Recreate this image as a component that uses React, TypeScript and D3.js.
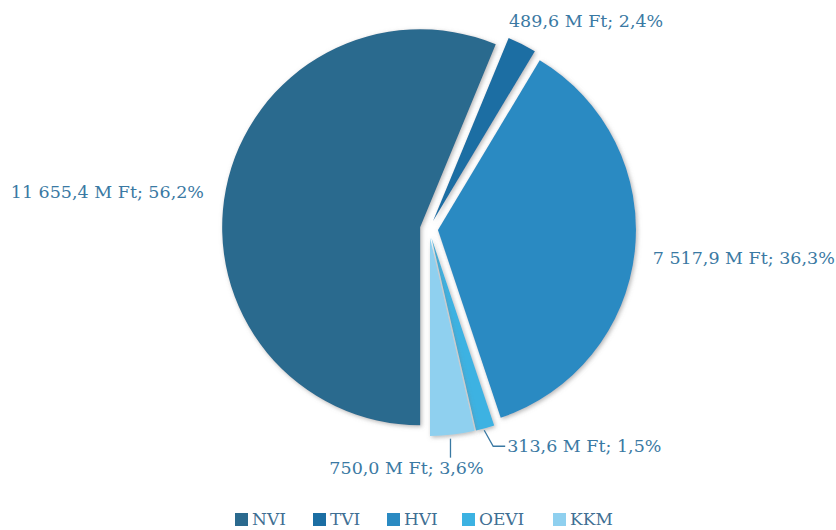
import React, { useEffect, useRef } from 'react';
import * as d3 from 'd3';

const categories = ['NVI', 'TVI', 'HVI', 'OEVI', 'KKM'];
const values = [11655.4, 489.6, 7517.9, 313.6, 750.0];
const colors = ['#2b6a8e', '#1b6ea3', '#2a8ac2', '#3cb2e2', '#8fd0ef'];

// label offsets relative to the slice's outer point (dx, dy, anchor)
const labelLayout: [number, number, string][] = [
  [-22, 3, 'end'],
  [-13, -23, 'start'],
  [18, 6, 'start'],
  [22, 18, 'start'],
  [-46, 33, 'middle'],
];

const W = 836;
const H = 530;

const App: React.FC = () => {
  const svgRef = useRef<SVGSVGElement>(null);

  useEffect(() => {
    if (!svgRef.current) return;
    const svg = d3.select(svgRef.current);
    svg.selectAll('*').remove();

    const cx = 429;
    const cy = 229;
    const R = 198;
    const explode = 9;
    const textColor = '#3a79a3';
    const font = "'DejaVu Serif', 'Noto Serif', serif";

    const total = d3.sum(values);
    const loc = d3.formatLocale({ decimal: ',', thousands: ' ', grouping: [3], currency: ['', ''] });
    const fmtVal = loc.format(',.1f');
    const fmtPct = loc.format('.1f');

    const defs = svg.append('defs');
    const f = defs.append('filter').attr('id', 'shadow')
      .attr('x', '-10%').attr('y', '-10%').attr('width', '120%').attr('height', '120%');
    f.append('feDropShadow').attr('dx', 1.5).attr('dy', 1.5).attr('stdDeviation', 2)
      .attr('flood-color', '#7a7a7a').attr('flood-opacity', 0.55);

    const pie = d3.pie<number>().sort(null)
      .startAngle(Math.PI).endAngle(3 * Math.PI);
    const arcs = pie(values);
    const arc = d3.arc<d3.PieArcDatum<number>>().innerRadius(0).outerRadius(R);

    const offset = (a: d3.PieArcDatum<number>, r: number) => {
      const m = (a.startAngle + a.endAngle) / 2;
      return [Math.sin(m) * r, -Math.cos(m) * r];
    };

    const g = svg.append('g').attr('transform', `translate(${cx},${cy})`);

    g.selectAll('path.slice')
      .data(arcs)
      .enter()
      .append('path')
      .attr('class', 'slice')
      .attr('d', arc)
      .attr('fill', (_, i) => colors[i])
      .attr('filter', 'url(#shadow)')
      .attr('transform', d => {
        const [x, y] = offset(d, explode);
        return `translate(${x},${y})`;
      });

    // labels
    arcs.forEach((d, i) => {
      const [ox, oy] = offset(d, explode);
      const [px, py] = offset(d, R);
      const bx = ox + px;
      const by = oy + py;
      const [dx, dy, anchor] = labelLayout[i];
      const text = `${fmtVal(d.data)} M Ft; ${fmtPct((d.data / total) * 100)}%`;
      g.append('text')
        .attr('x', bx + dx)
        .attr('y', by + dy)
        .attr('dy', '0.35em')
        .attr('text-anchor', anchor)
        .attr('fill', textColor)
        .attr('font-family', font)
        .attr('font-size', 17.5)
        .text(text);

      if (categories[i] === 'OEVI') {
        g.append('path')
          .attr('d', `M${bx - 1},${by + 2}L${bx + 8},${by + dy}L${bx + dx - 2},${by + dy}`)
          .attr('fill', 'none').attr('stroke', textColor).attr('stroke-width', 1.3);
      }
      if (categories[i] === 'KKM') {
        g.append('path')
          .attr('d', `M${bx - 2},${by + 4}L${bx - 2},${by + 23}`)
          .attr('fill', 'none').attr('stroke', textColor).attr('stroke-width', 1.3);
      }
    });

    // legend
    const legendStarts = [235, 313, 387, 462, 553];
    const lg = svg.append('g').attr('transform', `translate(0, ${H - 11})`);
    categories.forEach((c, i) => {
      const item = lg.append('g').attr('transform', `translate(${legendStarts[i]},0)`);
      item.append('rect').attr('x', 0).attr('y', -6).attr('width', 13).attr('height', 13)
        .attr('fill', colors[i]);
      item.append('text').attr('x', 17).attr('y', 0).attr('dy', '0.35em')
        .attr('fill', '#3f6f93').attr('font-family', font).attr('font-size', 17)
        .text(c);
    });
  }, []);

  return (
    <svg
      ref={svgRef}
      width={W}
      height={H}
      viewBox={`0 0 ${W} ${H}`}
      style={{ position: 'absolute', left: 0, top: 0, background: '#fff' }}
    />
  );
};

export default App;
